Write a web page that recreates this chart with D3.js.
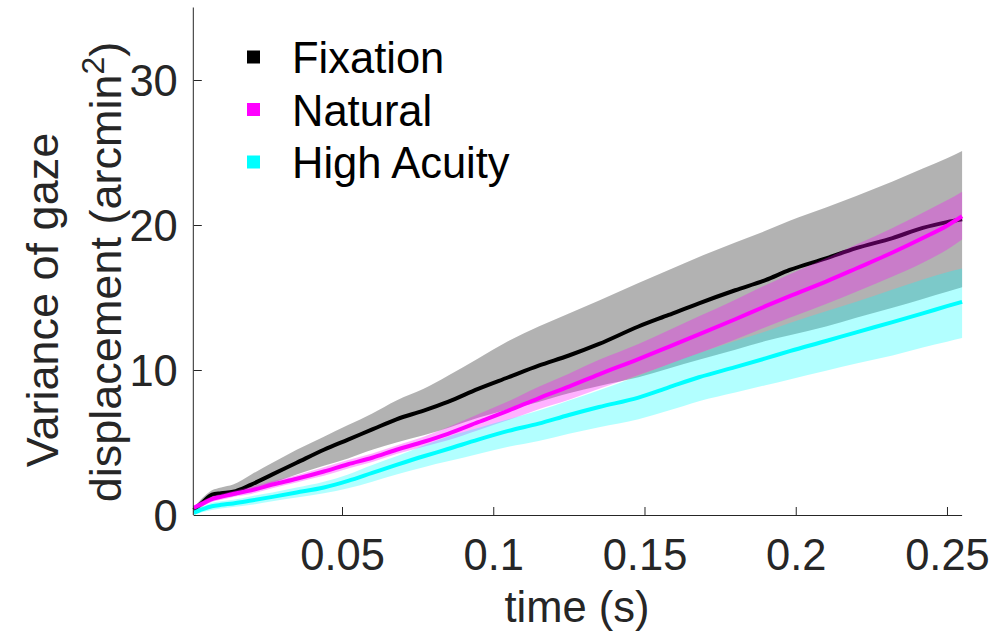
<!DOCTYPE html>
<html>
<head>
<meta charset="utf-8">
<script src="https://cdn.jsdelivr.net/npm/d3@7/dist/d3.min.js"></script>
<style>
  html, body { margin: 0; padding: 0; background: #fff; }
  svg { display: block; font-family: "Liberation Sans", Arial, Helvetica, sans-serif; }
</style>
</head>
<body>
<svg id="chart" width="997" height="635"></svg>
<script>
// Time lags (s)
const timeS = [0.001, 0.004, 0.007, 0.010, 0.014, 0.020, 0.027, 0.035, 0.044, 0.052,
               0.060, 0.068, 0.077, 0.085, 0.095, 0.105, 0.115, 0.125, 0.135, 0.148,
               0.158, 0.168, 0.180, 0.190, 0.198, 0.210, 0.220, 0.232, 0.242, 0.250, 0.255];

// Fixation: mean variance and shaded range (arcmin^2)
const fixMean = [0.35, 0.9, 1.4, 1.5, 1.6, 2.1, 2.8, 3.6, 4.5, 5.2,
                 5.9, 6.6, 7.2, 7.8, 8.7, 9.5, 10.3, 11.0, 11.8, 13.0,
                 13.8, 14.6, 15.5, 16.2, 16.9, 17.7, 18.4, 19.1, 19.8, 20.2, 20.4];
const fixLo   = [0.2, 0.6, 1.1, 1.2, 1.3, 1.7, 2.2, 2.8, 3.4, 3.9,
                 4.5, 5.0, 5.5, 6.0, 6.7, 7.3, 7.8, 8.4, 8.9, 9.5,
                 10.1, 10.7, 11.4, 12.0, 12.4, 13.0, 13.6, 14.3, 14.9, 15.4, 15.7];
const fixHi   = [0.5, 1.2, 1.7, 1.9, 2.1, 2.8, 3.6, 4.5, 5.4, 6.2,
                 7.0, 7.9, 8.7, 9.6, 10.8, 12.0, 13.0, 13.9, 14.8, 16.0,
                 16.9, 17.8, 18.8, 19.6, 20.3, 21.2, 22.0, 23.0, 23.9, 24.6, 25.1];

// Natural viewing
const natMean = [0.5, 0.8, 1.1, 1.25, 1.45, 1.7, 2.1, 2.5, 3.0, 3.5,
                 3.95, 4.5, 5.05, 5.6, 6.4, 7.2, 8.05, 8.85, 9.7, 10.75,
                 11.6, 12.45, 13.5, 14.4, 15.1, 16.1, 17.0, 18.1, 19.1, 19.95, 20.6];
const natLo   = [0.35, 0.6, 0.9, 1.05, 1.25, 1.45, 1.85, 2.25, 2.7, 3.2,
                 3.65, 4.2, 4.7, 5.15, 5.85, 6.55, 7.3, 7.95, 8.7, 9.65,
                 10.4, 11.15, 12.1, 12.95, 13.6, 14.55, 15.4, 16.45, 17.4, 18.3, 19.0];
const natHi   = [0.65, 1.0, 1.3, 1.45, 1.65, 1.95, 2.35, 2.75, 3.3, 3.8,
                 4.25, 4.8, 5.4, 6.05, 6.95, 7.85, 8.85, 9.75, 10.7, 11.8,
                 12.75, 13.7, 14.85, 15.85, 16.6, 17.7, 18.65, 19.8, 20.85, 21.7, 22.3];

// High acuity task
const hacMean = [0.15, 0.4, 0.6, 0.7, 0.8, 1.0, 1.25, 1.55, 1.9, 2.35,
                 2.9, 3.45, 4.05, 4.55, 5.2, 5.8, 6.3, 6.9, 7.45, 8.1,
                 8.8, 9.5, 10.2, 10.8, 11.3, 12.0, 12.6, 13.3, 13.9, 14.4, 14.7];
const hacLo   = [0.0, 0.2, 0.35, 0.45, 0.55, 0.7, 0.95, 1.2, 1.5, 1.85,
                 2.3, 2.8, 3.3, 3.7, 4.2, 4.7, 5.1, 5.6, 6.05, 6.6,
                 7.2, 7.85, 8.45, 8.95, 9.35, 9.95, 10.45, 11.0, 11.55, 11.95, 12.2];
const hacHi   = [0.35, 0.6, 0.85, 0.95, 1.05, 1.3, 1.55, 1.9, 2.3, 2.8,
                 3.45, 4.05, 4.8, 5.4, 6.0, 6.6, 7.2, 7.9, 8.6, 9.6,
                 10.4, 11.15, 12.0, 12.65, 13.25, 14.05, 14.7, 15.55, 16.25, 16.75, 17.0];

const seriesNames  = ["Fixation", "Natural", "High Acuity"];
const seriesColors = ["#000000", "#ff00ff", "#00ffff"];

const xTicks = [0.05, 0.1, 0.15, 0.2, 0.25];
const xTickLabels = ["0.05", "0.1", "0.15", "0.2", "0.25"];
const yTicks = [0, 10, 20, 30];
const yTickLabels = ["0", "10", "20", "30"];

const xDomain = [0.001, 0.255];
const yDomain = [0, 35];

// ---- layout ----
const svg = d3.select("#chart");
const plot = { left: 193.8, right: 962.1, top: 7.5, bottom: 515 };
const axisColor = "#262626";
const fontSize = 43.5;

const x = d3.scaleLinear().domain(xDomain).range([plot.left, plot.right]);
const y = d3.scaleLinear().domain(yDomain).range([plot.bottom, plot.top]);

const series = [
  { mean: fixMean, lo: fixLo, hi: fixHi },
  { mean: natMean, lo: natLo, hi: natHi },
  { mean: hacMean, lo: hacLo, hi: hacHi }
].map((s, i) => ({
  name: seriesNames[i],
  color: seriesColors[i],
  pts: timeS.map((t, k) => ({ t, m: s.mean[k], lo: s.lo[k], hi: s.hi[k] }))
}));

const area = d3.area().curve(d3.curveMonotoneX)
  .x(d => x(d.t)).y0(d => y(d.lo)).y1(d => y(d.hi));
const line = d3.line().curve(d3.curveMonotoneX)
  .x(d => x(d.t)).y(d => y(d.m));

const g = svg.append("g");
// each series: translucent band first, then its mean curve
series.forEach(s => {
  g.append("path").attr("d", area(s.pts))
    .attr("fill", s.color).attr("fill-opacity", 0.3).attr("stroke", "none");
  g.append("path").attr("d", line(s.pts))
    .attr("fill", "none").attr("stroke", s.color)
    .attr("stroke-width", 4).attr("stroke-linejoin", "round");
});

// ---- axes (left and bottom only, ticks pointing inward) ----
const xAxis = d3.axisBottom(x).tickValues(xTicks)
  .tickFormat((d, i) => xTickLabels[i]).tickSize(-8).tickSizeOuter(0).tickPadding(0);
const gx = svg.append("g").attr("transform", `translate(0,${plot.bottom})`).call(xAxis);
gx.select(".domain").attr("stroke", axisColor).attr("stroke-width", 1)
  .attr("d", `M${plot.left},0.5H${plot.right}`);
gx.selectAll(".tick line").attr("stroke", axisColor);
gx.selectAll(".tick text").attr("y", 55).attr("dy", null)
  .attr("fill", axisColor).attr("font-size", fontSize).attr("font-family", null);

const yAxis = d3.axisLeft(y).tickValues(yTicks)
  .tickFormat((d, i) => yTickLabels[i]).tickSize(-8).tickSizeOuter(0).tickPadding(0);
const gy = svg.append("g").attr("transform", `translate(${plot.left},0)`).call(yAxis);
gy.select(".domain").attr("stroke", axisColor).attr("stroke-width", 1)
  .attr("d", `M-0.5,${plot.bottom}V${plot.top}`);
gy.selectAll(".tick line").attr("stroke", axisColor);
gy.selectAll(".tick text").attr("x", -16).attr("dy", "0.36em")
  .attr("fill", axisColor).attr("font-size", fontSize).attr("font-family", null);

// ---- axis titles ----
svg.append("text")
  .attr("x", 577).attr("y", 622)
  .attr("text-anchor", "middle").attr("fill", axisColor).attr("font-size", fontSize)
  .text("time (s)");

const yl1 = svg.append("g").attr("transform", "translate(0,300) rotate(-90)");
yl1.append("text").attr("x", 0).attr("y", 58)
  .attr("text-anchor", "middle").attr("fill", axisColor).attr("font-size", 45)
  .text("Variance of gaze");
const yl2g = svg.append("g").attr("transform", "translate(0,272) rotate(-90)");
const yl2 = yl2g.append("text").attr("x", 0).attr("y", 121)
  .attr("text-anchor", "middle").attr("fill", axisColor).attr("font-size", 45);
yl2.append("tspan").text("displacement (arcmin");
yl2.append("tspan").attr("dy", -17).attr("font-size", 32).text("2");
yl2.append("tspan").attr("dy", 17).text(")");

// ---- legend ----
const legend = svg.append("g");
series.forEach((s, i) => {
  const cy = 57 + i * 52.5;
  legend.append("rect").attr("x", 247).attr("y", cy - 6.5)
    .attr("width", 13).attr("height", 13).attr("fill", s.color);
  legend.append("text").attr("x", 292).attr("y", cy + 16)
    .attr("fill", "#000").attr("font-size", fontSize).text(s.name);
});
</script>
</body>
</html>
